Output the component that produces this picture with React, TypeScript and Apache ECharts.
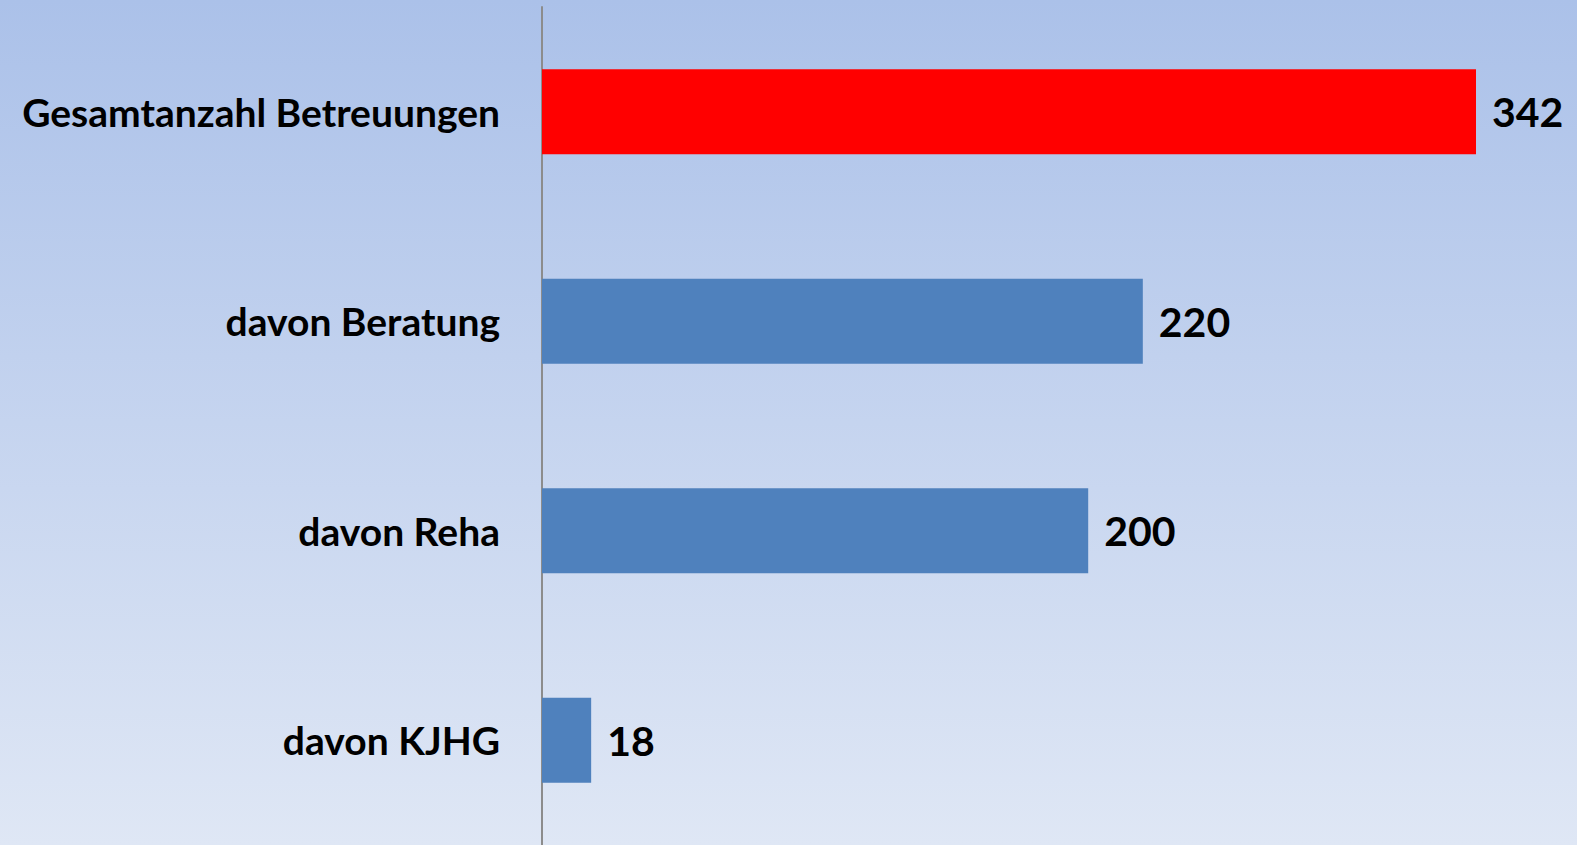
import React, { useEffect, useRef } from "react";
import * as echarts from "echarts";

const categories = ["Gesamtanzahl Betreuungen", "davon Beratung", "davon Reha", "davon KJHG"];
const values = [342, 220, 200, 18];
const barColors = ["#ff0000", "#4f81bd", "#4f81bd", "#4f81bd"];

export default function App() {
  const ref = useRef<HTMLDivElement>(null);
  useEffect(() => {
    document.body.style.margin = "0";
    const chart = echarts.init(ref.current!, undefined, { renderer: "svg" });
    const font = "Lato, 'Open Sans', sans-serif";
    chart.setOption({
      animation: false,
      backgroundColor: {
        type: "linear",
        x: 0, y: 0, x2: 0, y2: 1,
        colorStops: [
          { offset: 0, color: "#abc1e9" },
          { offset: 1, color: "#dfe7f5" },
        ],
      },
      grid: { left: 542, top: 7, bottom: -5, width: 350 * 2.731, containLabel: false },
      xAxis: {
        type: "value",
        min: 0,
        max: 350,
        show: false,
      },
      yAxis: {
        type: "category",
        data: categories,
        inverse: true,
        axisLine: { show: true, lineStyle: { color: "#8c8c8c", width: 2 } },
        axisTick: { show: false },
        axisLabel: {
          margin: 42,
          color: "#000000",
          fontFamily: font,
          fontWeight: "bold",
          fontSize: 39,
        },
      },
      series: [
        {
          type: "bar",
          barWidth: 85,
          data: values.map((v, i) => ({ value: v, itemStyle: { color: barColors[i] } })),
          label: {
            show: true,
            position: "right",
            distance: 16,
            color: "#000000",
            fontFamily: font,
            fontWeight: "bold",
            fontSize: 41,
          },
        },
      ],
    });
    return () => chart.dispose();
  }, []);
  return <div ref={ref} style={{ position: "fixed", left: 0, top: 0, width: 1577, height: 845 }} />;
}
